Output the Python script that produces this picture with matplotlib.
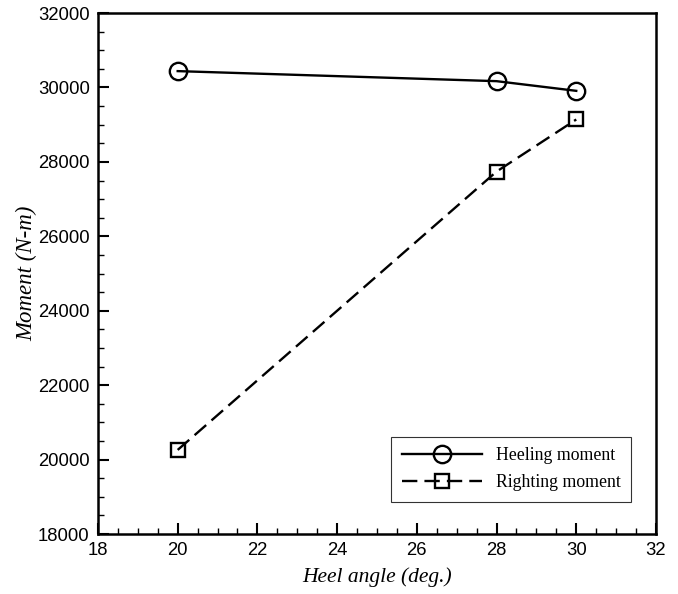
import matplotlib.pyplot as plt
from matplotlib.ticker import MultipleLocator

heel_angle = [20, 28, 30]
heeling_moment = [30440, 30170, 29910]
righting_moment = [20260, 27740, 29140]

fig = plt.figure(figsize=(6.78, 5.94), dpi=100)
ax = fig.add_axes([0.1445, 0.101, 0.823, 0.877])

ax.plot(heel_angle, heeling_moment, 'k-', lw=1.7, marker='o', ms=12.5,
        mfc='none', mew=1.7, label='Heeling moment')
ax.plot(heel_angle, righting_moment, 'k--', lw=1.7, dashes=(6.5, 3), marker='s', ms=9.5,
        mfc='none', mew=1.7, label='Righting moment')

ax.set_xlim(18, 32)
ax.set_ylim(18000, 32000)
ax.xaxis.set_major_locator(MultipleLocator(2))
ax.xaxis.set_minor_locator(MultipleLocator(0.5))
ax.yaxis.set_major_locator(MultipleLocator(2000))
ax.yaxis.set_minor_locator(MultipleLocator(500))
ax.tick_params(which='both', direction='in', top=False, right=False, width=1.5)
ax.tick_params(which='major', length=8, labelsize=13.3, pad=6)
ax.tick_params(which='minor', length=4, width=1.0)
for lab in ax.get_xticklabels() + ax.get_yticklabels():
    lab.set_family('Liberation Sans')
for s in ax.spines.values():
    s.set_linewidth(1.8)

ax.set_xlabel('Heel angle (deg.)', family='Liberation Serif', style='italic', fontsize=15.5, labelpad=6)
ax.set_ylabel('Moment (N-m)', family='Liberation Serif', style='italic', fontsize=16.5, labelpad=0)

leg = ax.legend(loc='lower right', bbox_to_anchor=(0.972, 0.045), prop={'family': 'Liberation Serif', 'size': 12.8},
                fancybox=False, edgecolor='black', handlelength=4.5, borderpad=0.6,
                labelspacing=0.55, handletextpad=0.8)
leg.get_frame().set_linewidth(0.8)

fig.savefig('out.png', dpi=100)
